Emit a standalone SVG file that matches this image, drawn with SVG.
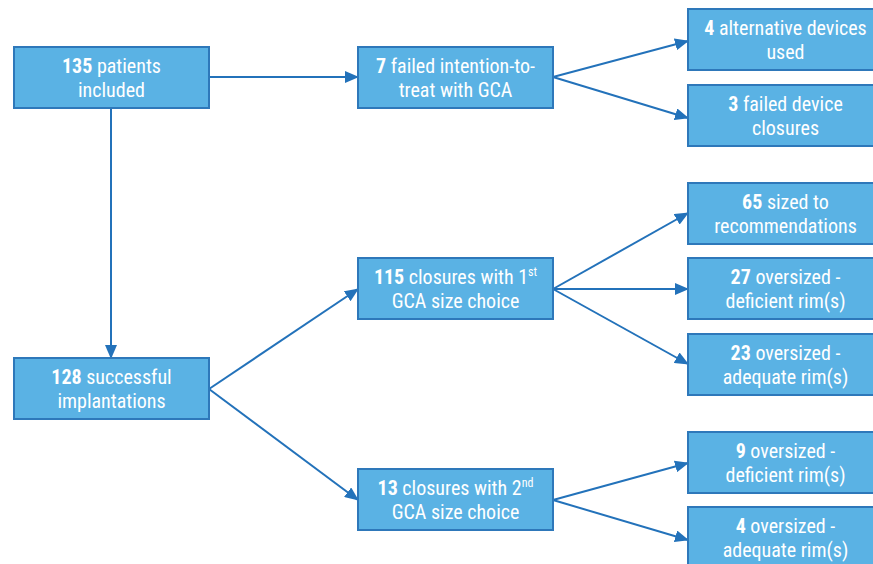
<svg xmlns="http://www.w3.org/2000/svg" width="873" height="564" viewBox="0 0 873 564">
<style>
.box{fill:#5AB2E4;stroke:#2E78BA;stroke-width:2}
.t{font-family:"Roboto Condensed","Liberation Sans Narrow","DejaVu Sans Condensed","Liberation Sans",sans-serif;font-stretch:condensed;font-size:20px;fill:#fff;text-anchor:middle}
.b{font-weight:bold}
.sup{font-size:12px}
.c{stroke:#2372BA;stroke-width:2;fill:none;marker-end:url(#ah)}
</style>
<defs>
<marker id="ah" markerUnits="userSpaceOnUse" markerWidth="14" markerHeight="12" refX="13" refY="6" orient="auto">
<path d="M0,0 L14,6 L0,12 Z" fill="#2372BA"/>
</marker>
</defs>
<rect width="873" height="564" fill="#fff"/>
<g id="connectors">
<line class="c" x1="209" y1="77" x2="358" y2="77"/>
<line class="c" x1="111" y1="108" x2="111" y2="358"/>
<line class="c" x1="553" y1="77" x2="688" y2="41"/>
<line class="c" x1="553" y1="77" x2="688" y2="118"/>
<line class="c" x1="209" y1="389" x2="358" y2="289"/>
<line class="c" x1="209" y1="389" x2="358" y2="500"/>
<line class="c" x1="553" y1="289" x2="688" y2="213"/>
<line class="c" x1="553" y1="289" x2="688" y2="289"/>
<line class="c" x1="553" y1="289" x2="688" y2="364"/>
<line class="c" x1="553" y1="500" x2="688" y2="463"/>
<line class="c" x1="553" y1="500" x2="688" y2="540"/>
</g>
<g id="n135"><rect class="box" x="14" y="47" width="195" height="61"/>
<text class="t" x="111.5" y="73"><tspan class="b">135</tspan> patients</text>
<text class="t" x="111.5" y="97">included</text></g>
<g id="n128"><rect class="box" x="14" y="358" width="195" height="61"/>
<text class="t" x="111.5" y="384"><tspan class="b">128</tspan> successful</text>
<text class="t" x="111.5" y="408">implantations</text></g>
<g id="n7"><rect class="box" x="358" y="47" width="195" height="61"/>
<text class="t" x="455.5" y="73"><tspan class="b">7</tspan> failed intention-to-</text>
<text class="t" x="455.5" y="97">treat with GCA</text></g>
<g id="n115"><rect class="box" x="358" y="258" width="195" height="61"/>
<text class="t" x="455.5" y="284"><tspan class="b">115</tspan> closures with 1<tspan class="sup" dy="-8">st</tspan></text>
<text class="t" x="455.5" y="308">GCA size choice</text></g>
<g id="n13"><rect class="box" x="358" y="469" width="195" height="61"/>
<text class="t" x="455.5" y="495"><tspan class="b">13</tspan> closures with 2<tspan class="sup" dy="-8">nd</tspan></text>
<text class="t" x="455.5" y="519">GCA size choice</text></g>
<g id="n4alt"><rect class="box" x="688" y="9" width="195" height="61"/>
<text class="t" x="785.5" y="35"><tspan class="b">4</tspan> alternative devices</text>
<text class="t" x="785.5" y="59">used</text></g>
<g id="n3"><rect class="box" x="688" y="85" width="195" height="61"/>
<text class="t" x="785.5" y="111"><tspan class="b">3</tspan> failed device</text>
<text class="t" x="785.5" y="135">closures</text></g>
<g id="n65"><rect class="box" x="688" y="183" width="195" height="61"/>
<text class="t" x="785.5" y="209"><tspan class="b">65</tspan> sized to</text>
<text class="t" x="785.5" y="233">recommendations</text></g>
<g id="n27"><rect class="box" x="688" y="258" width="195" height="61"/>
<text class="t" x="785.5" y="284"><tspan class="b">27</tspan> oversized -</text>
<text class="t" x="785.5" y="308">deficient rim(s)</text></g>
<g id="n23"><rect class="box" x="688" y="334" width="195" height="61"/>
<text class="t" x="785.5" y="360"><tspan class="b">23</tspan> oversized -</text>
<text class="t" x="785.5" y="384">adequate rim(s)</text></g>
<g id="n9"><rect class="box" x="688" y="432" width="195" height="61"/>
<text class="t" x="785.5" y="458"><tspan class="b">9</tspan> oversized -</text>
<text class="t" x="785.5" y="482">deficient rim(s)</text></g>
<g id="n4ov"><rect class="box" x="688" y="507" width="195" height="61"/>
<text class="t" x="785.5" y="533"><tspan class="b">4</tspan> oversized -</text>
<text class="t" x="785.5" y="557">adequate rim(s)</text></g>
</svg>
